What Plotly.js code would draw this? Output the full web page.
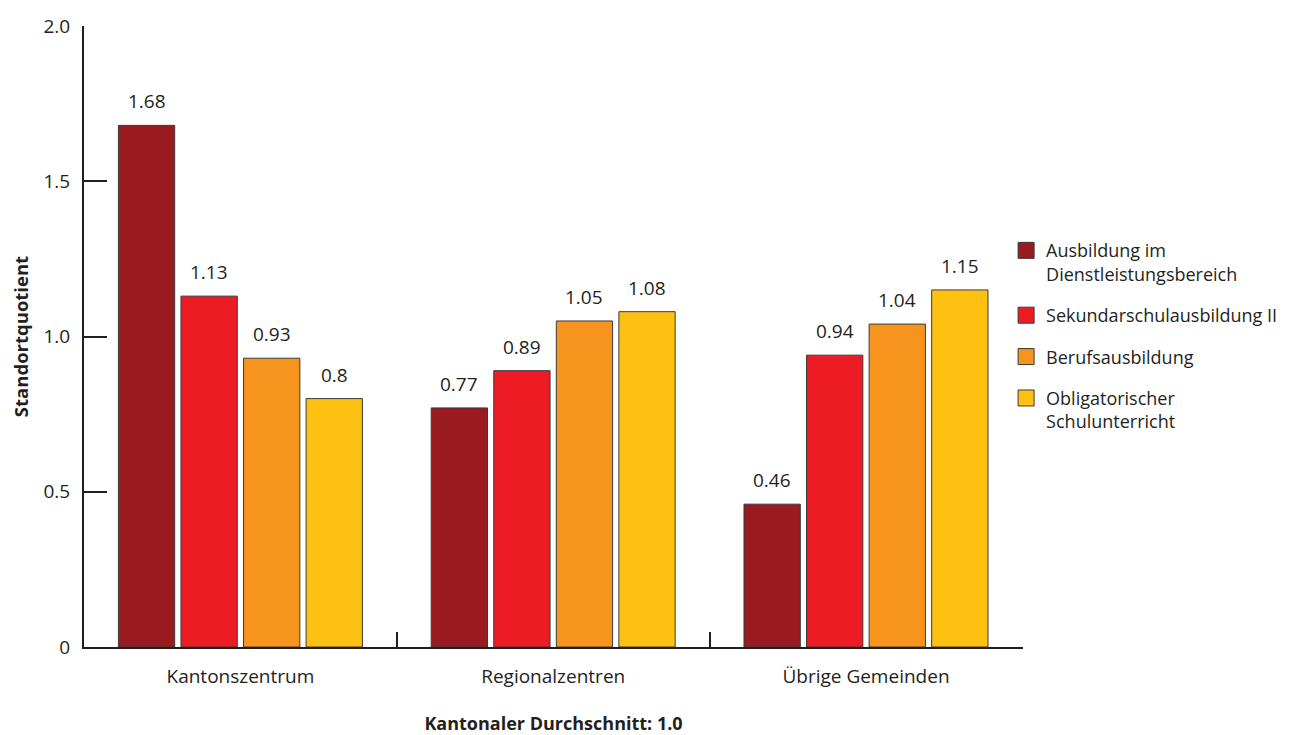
<!DOCTYPE html>
<html>
<head>
<meta charset="utf-8">
<script src="https://cdn.plot.ly/plotly-3.0.1.min.js"></script>
<style>html,body{margin:0;padding:0;background:#fff;}#chart{width:1295px;height:735px;}</style>
</head>
<body>
<div id="chart"></div>
<script>
var categories = ["Kantonszentrum", "Regionalzentren", "Übrige Gemeinden"];
var seriesNames = ["Ausbildung im<br>Dienstleistungsbereich", "Sekundarschulausbildung II", "Berufsausbildung", "Obligatorischer<br>Schulunterricht"];
var dienstleistung = [1.68, 0.77, 0.46];
var sekundar = [1.13, 0.89, 0.94];
var beruf = [0.93, 1.05, 1.04];
var obligatorisch = [0.8, 1.08, 1.15];
var seriesColors = ["#9A1B1F", "#ED1C24", "#F7941E", "#FEC111"];
var yTickVals = [0, 0.5, 1.0, 1.5, 2.0];
var yTickText = ["0", "0.5", "1.0", "1.5", "2.0"];

var allSeries = [dienstleistung, sekundar, beruf, obligatorisch];
var FONT = "'Open Sans', sans-serif";
var TXT = "#231F20";
var BARGAP = 0.2;
var nS = allSeries.length;
var slot = (1 - BARGAP) / nS;

var traces = [];
var annotations = [];
allSeries.forEach(function (vals, i) {
  traces.push({
    type: "bar",
    x: categories,
    y: vals,
    name: seriesNames[i],
    showlegend: false,
    marker: { color: seriesColors[i], line: { color: "#3A3A3A", width: 1 } },
    hoverinfo: "x+y"
  });
  var off = -(1 - BARGAP) / 2 + slot * (i + 0.5);
  vals.forEach(function (v, j) {
    annotations.push({
      x: j + off, y: v, xref: "x", yref: "y",
      text: String(v), showarrow: false,
      yanchor: "middle", yshift: 24,
      font: { family: FONT, size: 19, color: TXT }
    });
  });
});
// legend entries
allSeries.forEach(function (vals, i) {
  traces.push({
    type: "scatter", mode: "markers",
    x: [null], y: [null],
    name: seriesNames[i],
    legendgroup: "g" + i,
    marker: { symbol: "square", size: 16, color: seriesColors[i], line: { color: "#3A3A3A", width: 1 } },
    hoverinfo: "skip"
  });
});

var layout = {
  width: 1295, height: 735,
  margin: { l: 84, r: 270, t: 26, b: 88, pad: 0 },
  paper_bgcolor: "#fff", plot_bgcolor: "#fff",
  font: { family: FONT, size: 19, color: TXT },
  barmode: "group",
  bargap: BARGAP,
  bargroupgap: 0.1,
  showlegend: true,
  legend: {
    x: 0.982, xanchor: "left", y: 0.668, yanchor: "top",
    font: { family: FONT, size: 18, color: TXT },
    valign: "top",
    tracegroupgap: 15,
    traceorder: "grouped",
    bgcolor: "rgba(0,0,0,0)"
  },
  xaxis: {
    type: "category",
    categoryorder: "array", categoryarray: categories,
    range: [-0.5, 2.502],
    showline: true, linecolor: TXT, linewidth: 2,
    ticks: "inside", tickson: "boundaries", ticklen: 15, tickwidth: 2, tickcolor: TXT,
    showgrid: false, zeroline: false,
    tickfont: { family: FONT, size: 19, color: TXT },
    ticklabelstandoff: 11,
    title: { text: "<b>Kantonaler Durchschnitt: 1.0</b>", font: { family: FONT, size: 18, color: TXT }, standoff: 38 },
    automargin: false
  },
  yaxis: {
    range: [0, 2.0],
    tickvals: yTickVals, ticktext: yTickText,
    showline: true, linecolor: TXT, linewidth: 2,
    ticks: "inside", ticklen: 23, tickwidth: 2, tickcolor: TXT,
    showgrid: false, zeroline: false,
    tickfont: { family: FONT, size: 19, color: TXT },
    ticklabelstandoff: 8,
    title: { text: "<b>Standortquotient</b>", font: { family: FONT, size: 18.5, color: TXT }, standoff: 10 },
    automargin: false
  },
  annotations: annotations
};

Plotly.newPlot("chart", traces, layout, { displayModeBar: false, staticPlot: true });
</script>
</body>
</html>
